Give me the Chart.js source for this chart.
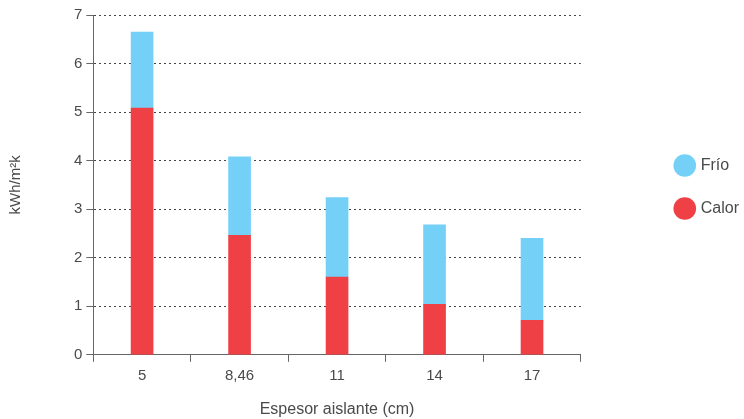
<!DOCTYPE html>
<html>
<head>
<meta charset="utf-8">
<script src="https://cdn.jsdelivr.net/npm/chart.js@4"></script>
<style>
  html, body { margin: 0; padding: 0; background: #fff; }
  #wrap { width: 744px; height: 419px; }
</style>
</head>
<body>
<div id="wrap"><canvas id="chart"></canvas></div>
<script>
// espesores de aislante (cm)
const categories = ['5', '8,46', '11', '14', '17'];
const calor = [5.08, 2.46, 1.60, 1.04, 0.71];
const frio = [1.57, 1.62, 1.64, 1.64, 1.69];
const yTicks = [0, 1, 2, 3, 4, 5, 6, 7];

const textColor = '#4a4a4a';
const axisColor = '#666';

// hueco entre el area del grafico y la leyenda
const legendGap = 64;
const legendLift = 30;

const legendShift = {
    id: 'legendShift',
    beforeInit(chart) {
        const fit = chart.legend.fit;
        chart.legend.fit = function () {
            fit.bind(chart.legend)();
            this.width += legendGap;
        };
    },
    afterLayout(chart) {
        const lg = chart.legend;
        lg.left += legendGap + 5;
        lg.top -= legendLift;
        lg.bottom -= legendLift;
    }
};

const ctx = document.getElementById('chart');
new Chart(ctx, {
    type: 'bar',
    data: {
        labels: categories,
        datasets: [
            { label: 'Calor', data: calor, backgroundColor: '#ef4045', borderWidth: 0 },
            { label: 'Frío', data: frio, backgroundColor: '#75d0f8', borderWidth: 0 }
        ]
    },
    options: {
        responsive: true,
        maintainAspectRatio: false,
        animation: false,
        layout: { padding: { left: 7, right: 0, top: 15, bottom: 0 } },
        datasets: { bar: { barThickness: 22 } },
        plugins: {
            tooltip: { enabled: false },
            legend: {
                position: 'right',
                reverse: true,
                labels: {
                    usePointStyle: true,
                    pointStyle: 'circle',
                    color: textColor,
                    font: { family: 'Liberation Sans', size: 16 },
                    padding: 27
                }
            }
        },
        scales: {
            x: {
                stacked: true,
                grid: {
                    offset: true,
                    drawOnChartArea: false,
                    drawTicks: true,
                    tickLength: 7,
                    tickColor: axisColor
                },
                border: { color: axisColor, width: 1 },
                ticks: {
                    color: textColor,
                    font: { family: 'Liberation Sans', size: 15 },
                    padding: 5
                },
                title: {
                    display: true,
                    text: 'Espesor aislante (cm)',
                    color: textColor,
                    font: { family: 'Liberation Sans', size: 16 },
                    padding: { top: 10, bottom: 0 }
                }
            },
            y: {
                stacked: true,
                min: 0,
                max: 7,
                afterBuildTicks(axis) {
                    axis.ticks = yTicks.map(v => ({ value: v }));
                },
                grid: {
                    color: '#444',
                    lineWidth: 1,
                    tickLength: 7,
                    tickColor: axisColor
                },
                border: { color: axisColor, width: 1, dash: [2, 3] },
                ticks: {
                    color: textColor,
                    font: { family: 'Liberation Sans', size: 15 },
                    padding: 4
                },
                title: {
                    display: true,
                    text: 'kWh/m²k',
                    color: textColor,
                    font: { family: 'Liberation Sans', size: 15 },
                    padding: { top: 0, bottom: 45 }
                }
            }
        }
    },
    plugins: [legendShift]
});
</script>
</body>
</html>
